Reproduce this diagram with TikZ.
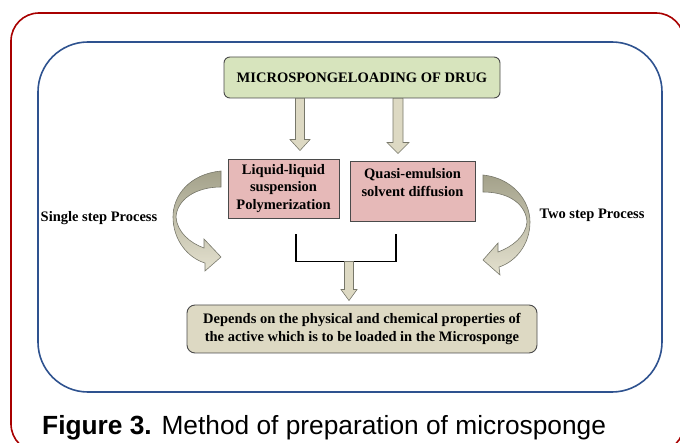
\documentclass[tikz,border=0pt]{standalone}
\usepackage{fontspec}
\setmainfont{Liberation Serif}
\newfontfamily\capfont{Liberation Sans}
\usetikzlibrary{calc}

\definecolor{greenfill}{HTML}{D7E4BD}
\definecolor{pinkfill}{HTML}{E6B9B8}
\definecolor{tanfill}{HTML}{DDD9C3}
\definecolor{boxline}{HTML}{4A4A4A}
\definecolor{arrowline}{HTML}{77776A}
\definecolor{curvetop}{HTML}{A3A18A}
\definecolor{curvebot}{HTML}{E4E1CF}
\definecolor{framered}{HTML}{A80000}
\definecolor{frameblue}{HTML}{2E528F}

% block arrow: start, end, half shaft width, half head width
\newcommand{\blockarrow}[4]{%
  \path[fatarrow] let \p1=(#1), \p2=(#2) in
    (\x1-#3,\y1) -- (\x1+#3,\y1) -- (\x1+#3,\y2+11pt) -- (\x1+#4,\y2+11pt)
    -- (\x1,\y2) -- (\x1-#4,\y2+11pt) -- (\x1-#3,\y2+11pt) -- cycle;}

\begin{document}
\begin{tikzpicture}[x=1pt,y=-1pt]
\tikzset{
  every node/.style={font=\bfseries\fontsize{14.5}{17.5}\selectfont},
  box/.style={draw=boxline, line width=0.9pt, align=center, inner sep=0pt},
  greenbox/.style={box, fill=greenfill, rounded corners=6pt, minimum width=276pt, minimum height=41pt},
  pinkbox/.style={box, fill=pinkfill},
  tanbox/.style={box, fill=tanfill, rounded corners=8pt, minimum width=350pt, minimum height=48pt},
  fatarrow/.style={fill=tanfill, draw=arrowline, line width=0.6pt},
  curvearrow/.style={draw=arrowline, line width=0.6pt, top color=curvetop, bottom color=curvebot},
  bracket/.style={draw=black, line width=1.3pt}
}
\useasboundingbox (0,0) rectangle (680,443);
\clip (0,0) rectangle (680,443);
% frames
\draw[framered, line width=1.6pt, rounded corners=28pt] (11,13) rectangle (684,452);
\draw[frameblue, line width=1.6pt, rounded corners=50pt] (38,42) rectangle (662,392);

% boxes
\node[greenbox] (load) at (362,77.5) {MICROSPONGELOADING OF DRUG};
\node[pinkbox, minimum width=111pt, minimum height=59pt] (lls) at (283.5,188.5)
  {Liquid-liquid\\suspension\\Polymerization};
\node[pinkbox, minimum width=125pt, minimum height=60pt] (qesd) at (412.5,191)
  {Quasi-emulsion\\[1pt]solvent diffusion\\\mbox{}};
\node[tanbox] (dep) at (362,329)
  {Depends on the physical and chemical properties of\\the active which is to be loaded in the Microsponge};
\node (single) at (99,218) {Single step Process};
\node (two) at (592,215) {Two step Process};
\node[font=\capfont\fontsize{26.3}{30}\selectfont, anchor=base west, inner sep=0pt] (cap) at (42,435)
  {\textbf{Figure 3.} Method of preparation of microsponge};

% straight arrows
\coordinate (a1s) at ($(load.south)+(-62,0)$);
\coordinate (a1e) at ($(a1s |- lls.north)+(0,-8)$);
\coordinate (a2s) at ($(load.south)+(36,0)$);
\coordinate (a2e) at ($(a2s |- qesd.north)+(0,-7)$);
\blockarrow{a1s}{a1e}{4.5pt}{10pt}
\blockarrow{a2s}{a2e}{5pt}{11pt}

% bracket
\coordinate (brl) at ($(lls.south)+(12.5,16)$);
\coordinate (brr) at ($(qesd.south)+(-16.5,13)$);
\draw[bracket] (brl) -- ++(0,27) -| (brr);
\coordinate (brm) at ($(brl)+(53,27)$);
\coordinate (brme) at ($(brm |- dep.north)+(0,-4)$);
\blockarrow{brm}{brme}{4.5pt}{8pt}

% curved arrows
\path[curvearrow] (221,171) .. controls (190,174) and (173,195) .. (173,217)
  .. controls (173,240) and (188,258) .. (205,263)
  -- (205,271) -- (221,257) -- (204,239) -- (204,248)
  .. controls (190,243) and (177,232) .. (176,217)
  .. controls (177,200) and (195,187) .. (221,187) -- cycle;
\path[curvearrow] (483,175) .. controls (512,178) and (530,200) .. (530,222)
  .. controls (530,245) and (515,262) .. (499,267)
  -- (500,275) -- (483,260) -- (498,243) -- (498,252)
  .. controls (512,247) and (526,236) .. (527,222)
  .. controls (526,205) and (510,192) .. (483,192) -- cycle;
\end{tikzpicture}
\end{document}
